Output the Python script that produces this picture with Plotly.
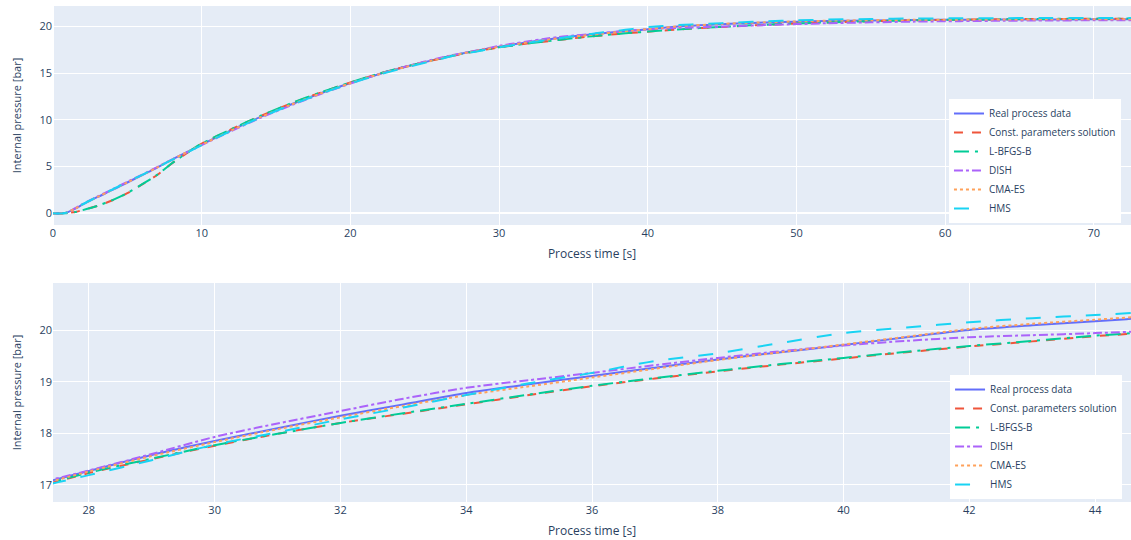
import plotly.graph_objects as go

# Time axis [s]
time_s = [0, 0.8, 1.5, 2, 3, 4, 5, 6, 7, 8, 9, 10, 12, 14, 16, 18, 20, 22, 24, 26, 27,
          28, 29, 30, 31, 32, 33, 34, 35, 36, 37, 38, 39, 40, 41, 42, 43, 44, 45, 46,
          48, 50, 52, 55, 58, 61, 64, 67, 70, 72.5]

real_data = [0, 0.02, 0.5, 0.95, 1.75, 2.5, 3.3, 4.1, 4.9, 5.75, 6.55, 7.35, 8.9, 10.35, 11.65,
             12.85, 13.95, 14.95, 15.8, 16.57, 16.95, 17.27, 17.58, 17.85, 18.1, 18.34, 18.56,
             18.78, 18.95, 19.11, 19.27, 19.43, 19.57, 19.71, 19.86, 20.0, 20.09, 20.17, 20.25,
             20.32, 20.43, 20.52, 20.59, 20.66, 20.7, 20.73, 20.75, 20.76, 20.77, 20.78]

const_params = [0, 0, 0.15, 0.35, 0.8, 1.4, 2.15, 3.1, 4.1, 5.35, 6.45, 7.45, 9.0, 10.45, 11.75,
                12.93, 14.0, 14.98, 15.82, 16.55, 16.9, 17.23, 17.5, 17.76, 17.99, 18.2, 18.38,
                18.56, 18.74, 18.91, 19.06, 19.2, 19.33, 19.45, 19.57, 19.68, 19.78, 19.88, 19.96,
                20.04, 20.19, 20.32, 20.43, 20.56, 20.66, 20.73, 20.78, 20.81, 20.83, 20.84]

lbfgsb = [0, 0, 0.14, 0.34, 0.8, 1.42, 2.17, 3.12, 4.12, 5.36, 6.46, 7.46, 9.02, 10.47, 11.77,
          12.95, 14.01, 14.99, 15.83, 16.56, 16.91, 17.24, 17.51, 17.77, 17.99, 18.2, 18.39,
          18.57, 18.75, 18.92, 19.07, 19.21, 19.34, 19.46, 19.58, 19.69, 19.79, 19.89, 19.97,
          20.05, 20.2, 20.33, 20.44, 20.57, 20.67, 20.74, 20.79, 20.82, 20.84, 20.85]

dish = [0, 0.03, 0.55, 1.0, 1.8, 2.58, 3.38, 4.15, 4.95, 5.75, 6.52, 7.3, 8.82, 10.25, 11.55,
        12.77, 13.9, 14.93, 15.84, 16.64, 16.98, 17.28, 17.6, 17.93, 18.19, 18.43, 18.67,
        18.88, 19.03, 19.17, 19.32, 19.46, 19.59, 19.7, 19.79, 19.86, 19.9, 19.94, 19.99,
        20.05, 20.16, 20.26, 20.35, 20.45, 20.53, 20.58, 20.62, 20.65, 20.67, 20.68]

cma_es = [0, 0.02, 0.51, 0.96, 1.76, 2.52, 3.31, 4.1, 4.9, 5.74, 6.54, 7.34, 8.88, 10.33, 11.63,
          12.83, 13.93, 14.93, 15.78, 16.55, 16.93, 17.26, 17.56, 17.83, 18.08, 18.31, 18.53,
          18.74, 18.91, 19.08, 19.25, 19.42, 19.57, 19.72, 19.87, 20.02, 20.12, 20.2, 20.28,
          20.35, 20.46, 20.55, 20.62, 20.68, 20.72, 20.74, 20.76, 20.77, 20.78, 20.78]

hms = [0, 0.02, 0.52, 0.97, 1.78, 2.55, 3.35, 4.12, 4.9, 5.72, 6.5, 7.3, 8.85, 10.3, 11.6,
       12.8, 13.9, 14.88, 15.72, 16.5, 16.9, 17.19, 17.48, 17.78, 18.02, 18.27, 18.5,
       18.74, 18.97, 19.17, 19.4, 19.55, 19.75, 19.94, 20.05, 20.15, 20.23, 20.29, 20.36,
       20.44, 20.57, 20.67, 20.74, 20.81, 20.86, 20.88, 20.9, 20.91, 20.92, 20.92]

series = [
    ("Real process data", real_data, "#636efa", "solid"),
    ("Const. parameters solution", const_params, "#EF553B", "dash"),
    ("L-BFGS-B", lbfgsb, "#00cc96", "longdashdot"),
    ("DISH", dish, "#ab63fa", "dashdot"),
    ("CMA-ES", cma_es, "#FFA15A", "dot"),
    ("HMS", hms, "#19d3f3", "longdash"),
]

fig = go.Figure()
for xa, ya, lg in [("x", "y", "legend"), ("x2", "y2", "legend2")]:
    for name, vals, color, dash in series:
        fig.add_trace(go.Scatter(
            x=time_s, y=vals, name=name, mode="lines",
            line=dict(color=color, dash=dash, width=2, shape="spline", smoothing=0.8),
            xaxis=xa, yaxis=ya, legend=lg,
        ))

xtitle = dict(text="Process time [s]", font=dict(size=12), standoff=10)
ytitle = dict(text="Internal pressure [bar]", font=dict(size=11))

fig.update_layout(
    template="plotly",
    width=1131, height=540,
    margin=dict(l=53, r=0, t=6, b=38),
    font=dict(family="Open Sans", size=11),
    xaxis=dict(domain=[0, 1], range=[0, 72.5], anchor="y", title=xtitle),
    yaxis=dict(domain=[0.5585, 1], range=[-1.25, 22.2], anchor="x", title=ytitle),
    xaxis2=dict(domain=[0, 1], range=[27.43, 44.57], anchor="y2", title=xtitle),
    yaxis2=dict(domain=[0, 0.4415], range=[16.67, 20.91], anchor="x2", title=ytitle),
    legend=dict(x=0.9907, y=0.5625, xanchor="right", yanchor="bottom",
                bgcolor="white", font=dict(size=10)),
    legend2=dict(x=0.9917, y=0.006, xanchor="right", yanchor="bottom",
                 bgcolor="white", font=dict(size=10)),
)

fig.write_html("out.html")
